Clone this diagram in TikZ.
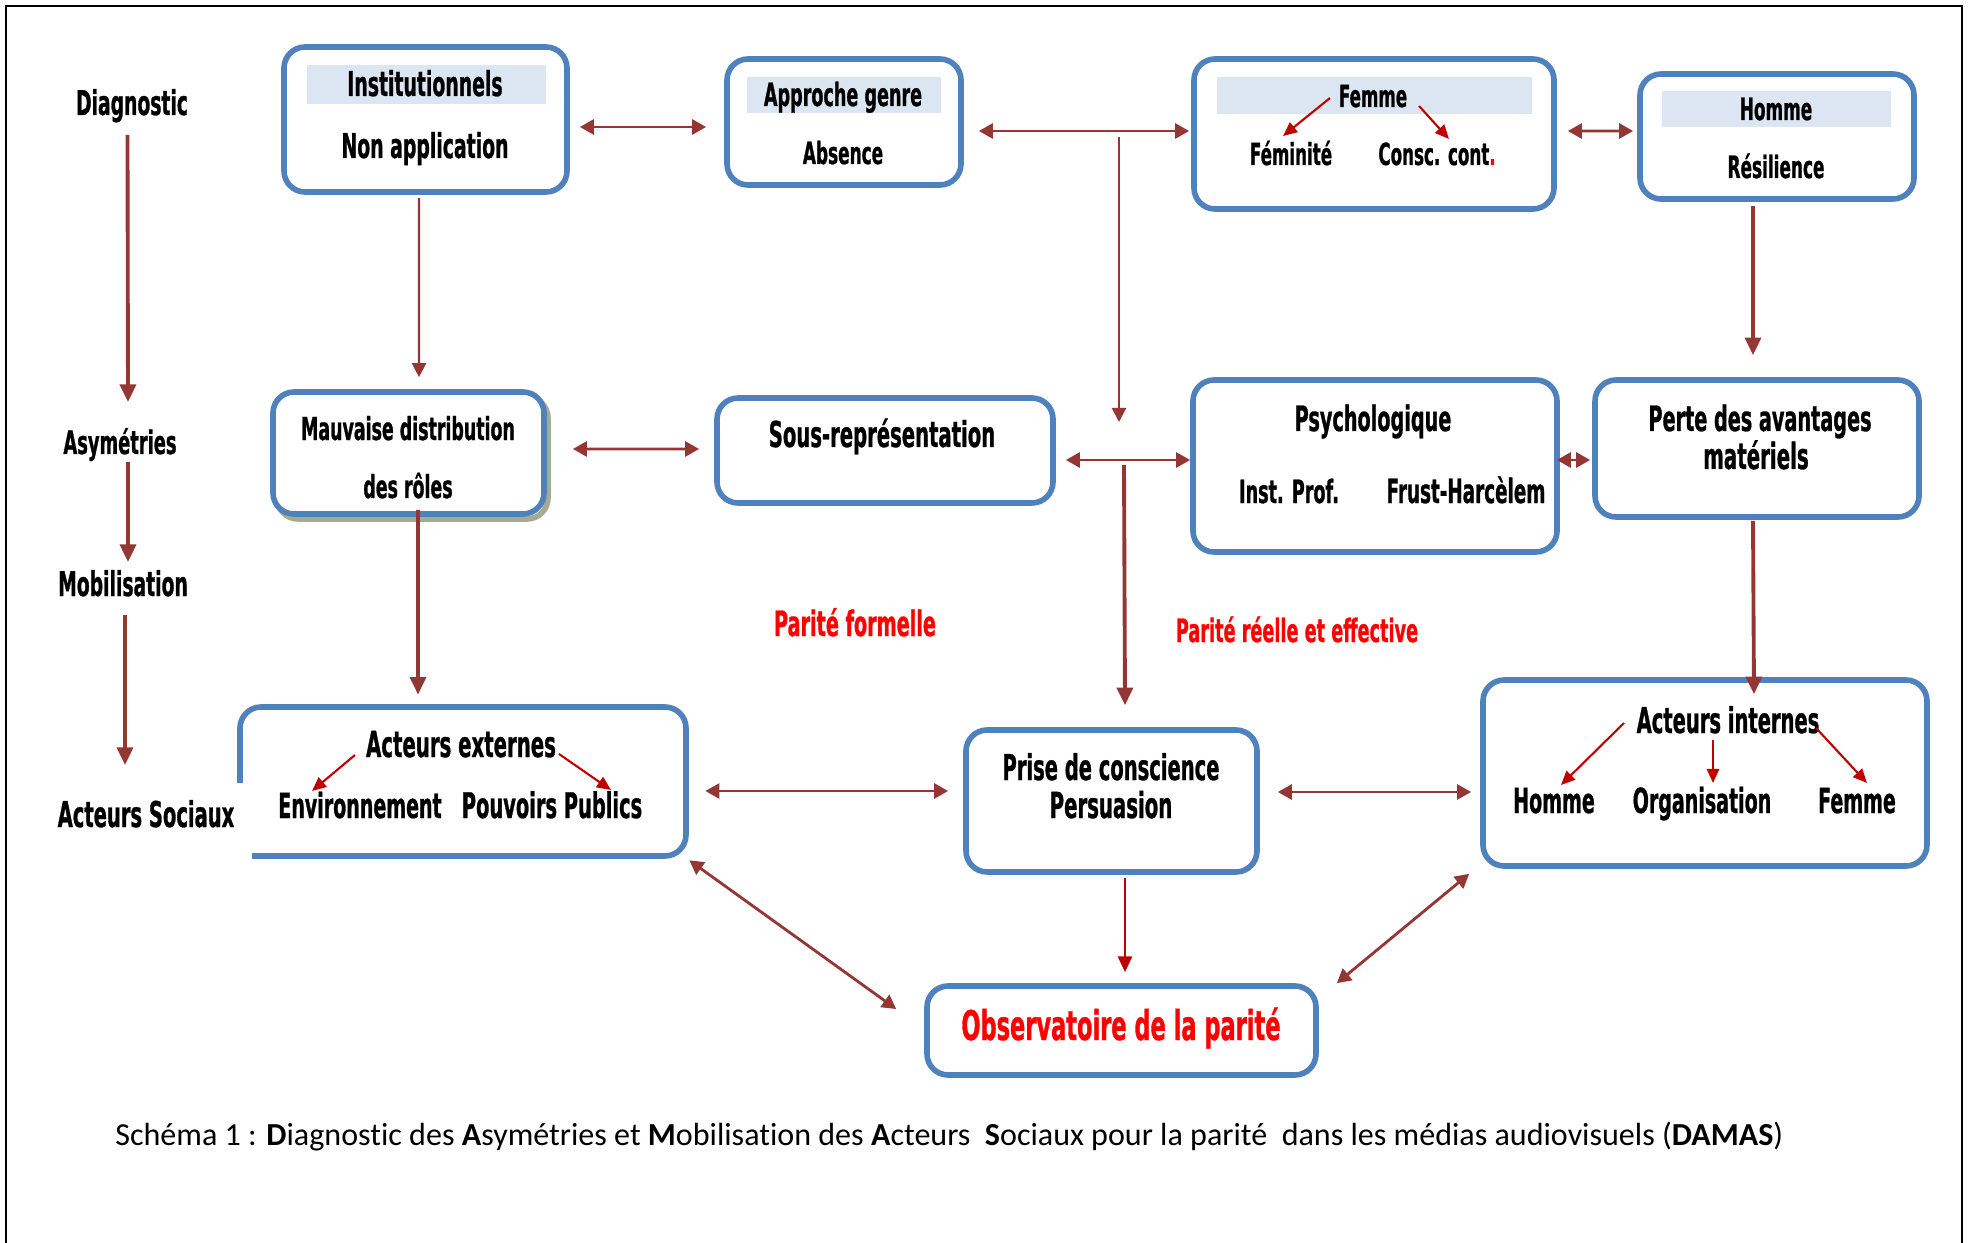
\documentclass[tikz,border=0pt]{standalone}
\usepackage{fontspec}
\setmainfont{Carlito}[Ligatures=NoCommon]
\newfontfamily\agency[FakeStretch=0.55,FakeBold=0.8]{DejaVu Sans}
\usetikzlibrary{arrows.meta,fit}
\definecolor{boxblue}{HTML}{4F81BD}
\definecolor{hdrfill}{HTML}{DCE6F2}
\definecolor{arr}{HTML}{943634}
\definecolor{darr}{HTML}{C00000}
\definecolor{shadowc}{HTML}{A5AB8E}
\begin{document}
\begin{tikzpicture}[x=0.02cm,y=-0.02cm,
  box/.style={draw=boxblue, line width=3.2pt, rounded corners=12pt, inner sep=0pt, fill=white},
  boxline/.style={draw=boxblue, line width=3.2pt, rounded corners=12pt},
  hdr/.style={fill=hdrfill, draw=none, inner sep=0pt},
  txt/.style={inner sep=0pt, anchor=base, font=\agency\bfseries\fontsize{#1}{#1}\selectfont},
  conn/.style={draw=arr, line width=1.6pt, {Triangle[length=8pt,width=8.5pt]}-{Triangle[length=8pt,width=8.5pt]}},
  thinarr/.style={draw=arr, line width=1.2pt, -{Triangle[length=8pt,width=8pt]}},
  tdarr/.style={draw=arr, line width=2.2pt, -{Triangle[length=10pt,width=9pt]}},
  redarr/.style={draw=darr, line width=1.2pt, -{Triangle[length=8pt,width=7pt]}},
  redthin/.style={draw=darr, line width=1.4pt, -{Triangle[length=9pt,width=8pt]}}
]
\useasboundingbox (0,0) rectangle (1968,1243);
\fill[white] (0,0) rectangle (1968,1243);
\draw[black, line width=1.2pt] (6,1243) -- (6,6) -- (1962,6) -- (1962,1243);

% boxes
\node[box, fit={(284,47)(567,192)}] (inst) {};
\node[box, fit={(727,59)(961,185)}] (appr) {};
\node[box, fit={(1194,59)(1554,209)}] (femme) {};
\node[box, fit={(1640,74)(1914,199)}] (homme) {};
\node[box, draw=shadowc, fit={(277,397)(548,519)}] (mauxsh) {};
\node[box, fit={(273,392)(544,514)}] (maux) {};
\node[box, fit={(717,398)(1053,503)}] (sous) {};
\node[box, fit={(1193,380)(1557,552)}] (psy) {};
\node[box, fit={(1595,380)(1919,517)}] (perte) {};
\node[inner sep=0pt, fit={(240,707)(686,856)}] (ext) {};
\draw[boxline] (240,783) -- (240,707) -- (686,707) -- (686,856) -- (252,856);
\node[box, fit={(966,730)(1257,872)}] (prise) {};
\node[box, fit={(1483,680)(1927,866)}] (intern) {};
\node[box, fit={(927,986)(1316,1075)}] (obs) {};

% header bands
\node[hdr, fit={(307,65)(546,104)}] (insth) {};
\node[hdr, fit={(747,77)(941,113)}] (apprh) {};
\node[hdr, fit={(1217,77)(1532,114)}] (femmeh) {};
\node[hdr, fit={(1662,91)(1891,127)}] (hommeh) {};

% side labels
\node[txt=19.4] (diag) at (132,115) {Diagnostic};
\node[txt=18.5] (asym) at (120,454) {Asymétries};
\node[txt=19.4] (mob) at (123,596) {Mobilisation};
\node[txt=20.2] (acts) at (146,827) {Acteurs Sociaux};

% box texts
\node[txt=19.5] (instt) at (425,96) {Institutionnels};
\node[txt=19.5] (insta) at (425,158) {Non application};
\node[txt=18.2] (apprt) at (843,106) {Approche genre};
\node[txt=17.5] (appra) at (843,164) {Absence};
\node[txt=17.3] (fh) at (1373,107) {Femme};
\node[txt=17.3] (fem1) at (1291,165) {Féminité};
\node[txt=17.3] (fem2) at (1437,165) {Consc. cont\textcolor{red}{.}};
\node[txt=17.5] (hh) at (1776,120) {Homme};
\node[txt=17.5] (hres) at (1776,178) {Résilience};
\node[txt=18] (mx1) at (408,440) {Mauvaise distribution};
\node[txt=18] (mx2) at (408,498) {des rôles};
\node[txt=20.3] (sr) at (882,447) {Sous-représentation};
\node[txt=19.9] (psyt) at (1373,431) {Psychologique};
\node[txt=18.2] (psy1) at (1289,503) {Inst. Prof.};
\node[txt=19] (psy2) at (1466,503) {Frust-Harcèlem};
\node[txt=19.9] (pt1) at (1760,431) {Perte des avantages};
\node[txt=20.5] (pt2) at (1756,469) {matériels};
\node[txt=20.4] (ae) at (461,757) {Acteurs externes};
\node[txt=19.7] (env) at (360,818) {Environnement};
\node[txt=20.1] (pp) at (552,818) {Pouvoirs Publics};
\node[txt=20.2] (pc1) at (1111,780) {Prise de conscience};
\node[txt=20.4] (pc2) at (1111,818) {Persuasion};
\node[txt=20.2] (ai) at (1728,733) {Acteurs internes};
\node[txt=19.7] (ih) at (1554,813) {Homme};
\node[txt=19.7] (io) at (1702,813) {Organisation};
\node[txt=19.7] (ifm) at (1857,813) {Femme};
\node[txt=23.3, text=red] (obst) at (1121,1040) {Observatoire de la parité};
\node[txt=19.9, text=red] (pf) at (855,636) {Parité formelle};
\node[txt=18.3, text=red] (pr) at (1297,642) {Parité réelle et effective};

% caption
\node[anchor=base west, inner sep=0pt, font=\fontsize{18.25}{18.25}\selectfont] (cap) at (115,1145)
  {Schéma 1 : \textbf{D}iagnostic des \textbf{A}symétries et \textbf{M}obilisation des \textbf{A}cteurs~ \textbf{S}ociaux pour la parité~ dans les médias audiovisuels (\textbf{DAMAS})};

% side arrows
\draw[tdarr] ([shift={(-4.5,20)}]diag.base) -- ([shift={(8,-52)}]asym.base);
\draw[tdarr] ([shift={(8,8)}]asym.base) -- ([shift={(5,-34)}]mob.base);
\draw[tdarr] ([shift={(2,19)}]mob.base) -- ([shift={(-21,-62)}]acts.base);

% connectors
\draw[conn] ([shift={(10,7.5)}]inst.east) -- ([shift={(-18,5)}]appr.west);
\draw[conn] ([shift={(15,9)}]appr.east) -- ([shift={(-2,-3)}]femme.west);
\draw[conn] ([shift={(11,-3)}]femme.east) -- ([shift={(-4,-5.5)}]homme.west);
\coordinate (j1) at (1119,137);
\coordinate (j1e) at (1119,422);
\draw[thinarr] (j1) -- (j1e);
\draw[thinarr] ([shift={(-6.5,3)}]inst.south) -- ([shift={(10.5,-12)}]maux.north);
\draw[tdarr] ([shift={(-24,4)}]homme.south) -- ([shift={(-4,-22)}]perte.north);
\draw[conn] ([shift={(26,-4)}]maux.east) -- ([shift={(-15,-1.5)}]sous.west);
\draw[conn] ([shift={(10,9.5)}]sous.east) -- ([shift={(0,-6)}]psy.west);
\coordinate (j2) at (1124,465);
\draw[tdarr] (j2) -- ([shift={(13.5,-22)}]prise.north);
\draw[conn] ([shift={(-3,-6)}]psy.east) -- ([shift={(-2,11.5)}]perte.west);
\draw[tdarr] ([shift={(9.5,-7)}]maux.south) -- ([shift={(-45,-12)}]ext.north);
\draw[tdarr] ([shift={(-4,1)}]perte.south) -- ([shift={(49,17)}]intern.north);
\draw[conn] ([shift={(19,9.5)}]ext.east) -- ([shift={(-15,-10)}]prise.west);
\draw[conn] ([shift={(18,-9)}]prise.east) -- ([shift={(-9,19)}]intern.west);
\draw[redthin] ([shift={(13.5,3)}]prise.south) -- ([shift={(3.5,-11)}]obs.north);
\draw[conn] ([shift={(3,4)}]ext.south east) -- ([shift={(-28,-21.5)}]obs.west);
\draw[conn] ([shift={(-11,5)}]intern.south west) -- ([shift={(18,0)}]obs.north east);

% internal red arrows
\draw[redarr] ([shift={(-43,-9)}]fh.base) -- ([shift={(-8,-29)}]fem1.base);
\draw[redarr] ([shift={(46,-1)}]fh.base) -- ([shift={(12,-26)}]fem2.base);
\draw[redarr] ([shift={(-106,-2)}]ae.base) -- ([shift={(-48,-27)}]env.base);
\draw[redarr] ([shift={(98,-3)}]ae.base) -- ([shift={(59,-28)}]pp.base);
\draw[redarr] ([shift={(-104,-10)}]ai.base) -- ([shift={(7,-28)}]ih.base);
\draw[redarr] ([shift={(-15,7)}]ai.base) -- ([shift={(11,-30)}]io.base);
\draw[redarr] ([shift={(88,-5)}]ai.base) -- ([shift={(10,-30)}]ifm.base);
\end{tikzpicture}
\end{document}
